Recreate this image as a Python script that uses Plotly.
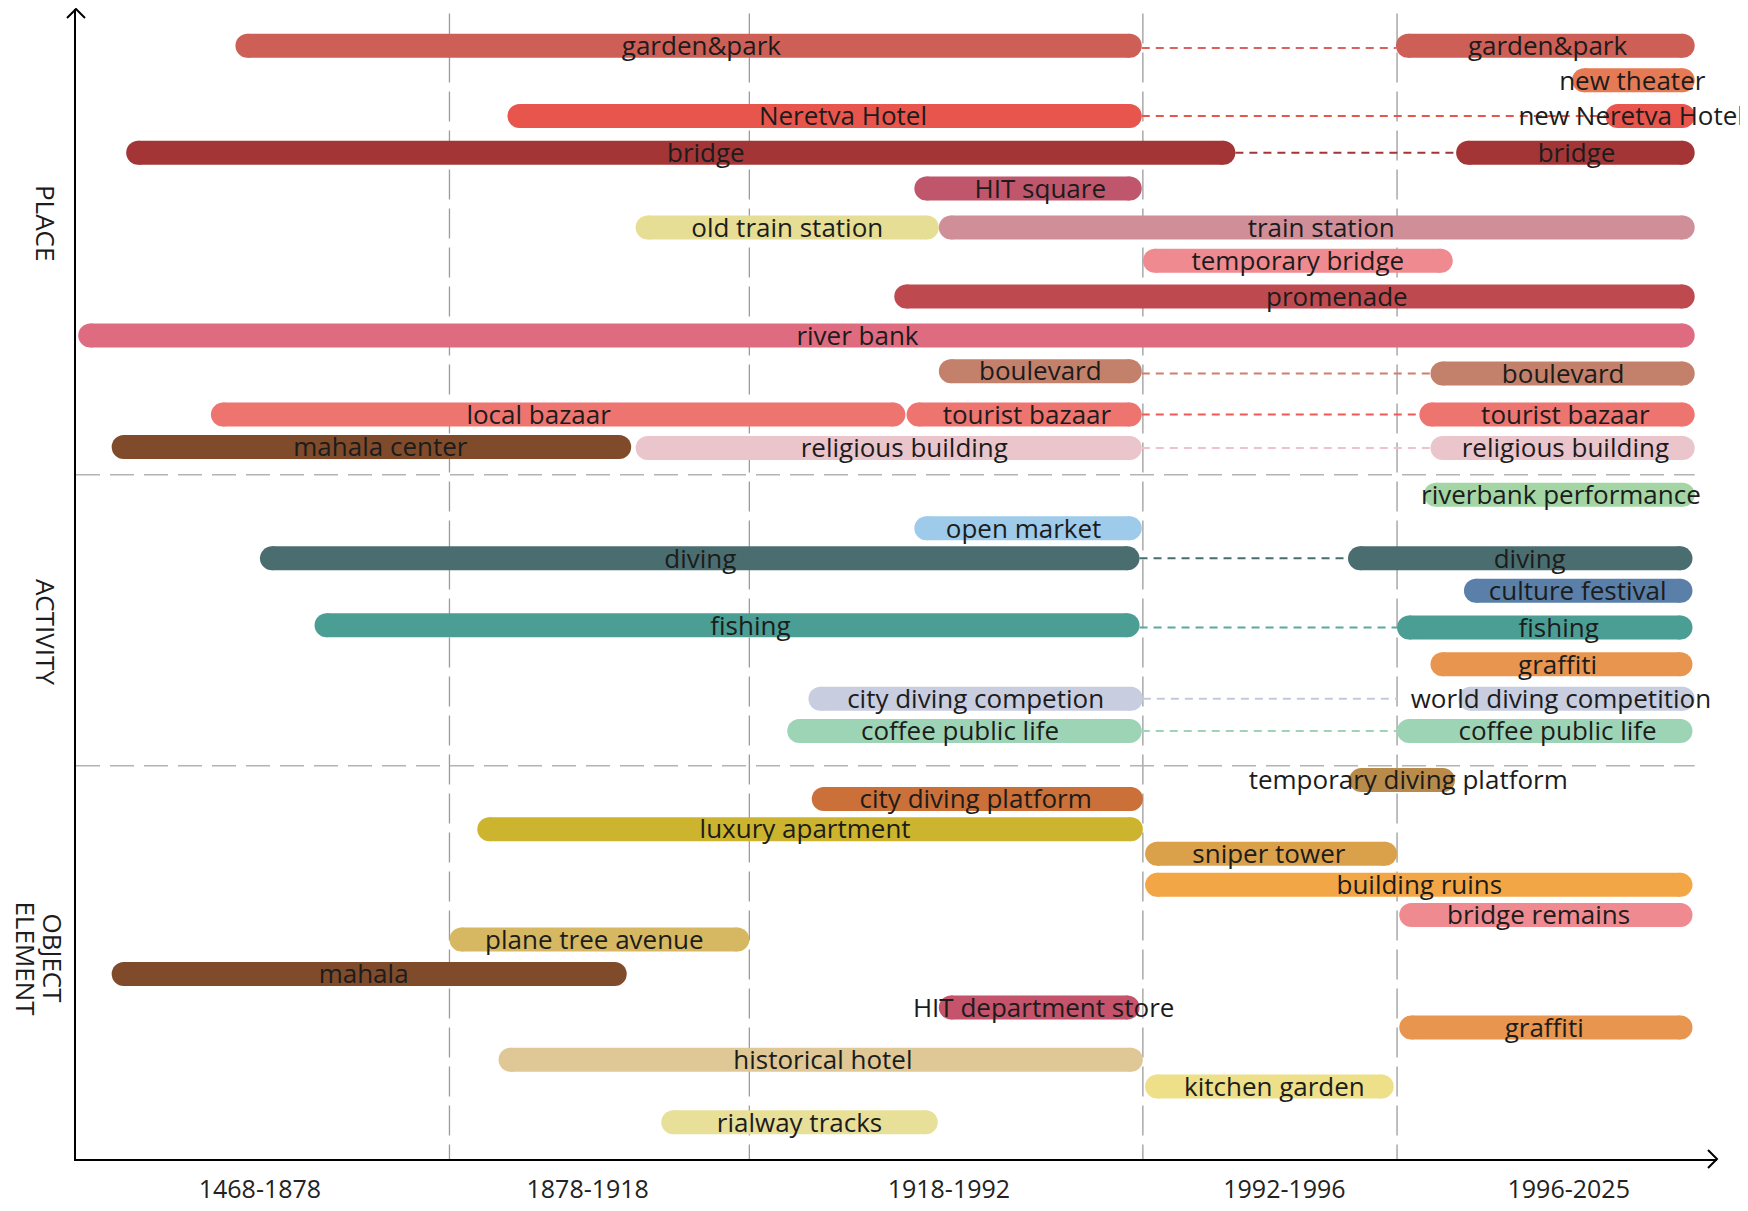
import plotly.graph_objects as go

# ---------------- data (timeline position units / lane units) ----------------
ERA_LABELS = ["1468-1878", "1878-1918", "1918-1992", "1992-1996", "1996-2025"]
ERA_LABEL_POS = [233, 527, 851, 1152, 1407]
ERA_BOUNDARIES = [403, 672, 1025, 1253]
SECTION_BREAKS = [426, 687]
SECTION_TITLES = ["PLACE", "ACTIVITY", "OBJECT", "ELEMENT"]
SECTION_POS = [200, 567, 860, 860]

BAR_LABELS = [
    "garden&park", "garden&park", "new theater", "Neretva Hotel", "new Neretva Hotel",
    "bridge", "bridge", "HIT square", "old train station", "train station",
    "temporary bridge", "promenade", "river bank", "boulevard", "boulevard",
    "local bazaar", "tourist bazaar", "tourist bazaar", "mahala center",
    "religious building", "religious building",
    "riverbank performance", "open market", "diving", "diving", "culture festival",
    "fishing", "fishing", "graffiti", "city diving competion", "world diving competition",
    "coffee public life", "coffee public life",
    "temporary diving platform", "city diving platform", "luxury apartment", "sniper tower",
    "building ruins", "bridge remains", "plane tree avenue", "mahala", "HIT department store",
    "graffiti", "historical hotel", "kitchen garden", "rialway tracks",
]
BAR_START = [
    211, 1252, 1410, 455, 1440,
    113, 1306, 820, 570, 842,
    1025, 802, 70, 842, 1283,
    189, 813, 1273, 100,
    570, 1283,
    1277, 820, 233, 1209, 1313,
    282, 1253, 1283, 725, 1308,
    706, 1253,
    1210, 728, 428, 1027,
    1027, 1255, 403, 100, 842,
    1255, 447, 1027, 593,
]
BAR_END = [
    1024, 1520, 1520, 1024, 1520,
    1108, 1520, 1024, 842, 1520,
    1303, 1520, 1520, 1024, 1520,
    812, 1024, 1520, 566,
    1024, 1520,
    1520, 1024, 1022, 1518, 1518,
    1022, 1518, 1518, 1025, 1520,
    1024, 1518,
    1305, 1025, 1025, 1253,
    1518, 1518, 672, 562, 1022,
    1518, 1025, 1250, 841,
]
BAR_LANE = [
    41, 41, 72, 104, 104,
    137, 137, 169, 204, 204,
    234, 266, 301, 333, 335,
    372, 372, 372, 401,
    402, 402,
    444, 474, 501, 501, 530,
    561, 563, 596, 627, 627,
    656, 656,
    700, 717, 744, 766,
    794, 821, 843, 874, 904,
    922, 951, 975, 1007,
]
LABEL_AT = [
    629, 1388, 1464, 756, 1463,
    633, 1414, 933, 706, 1185,
    1164, 1199, 769, 933, 1402,
    483, 921, 1404, 341,
    811, 1404,
    1400, 918, 628, 1372, 1415,
    673, 1398, 1397, 875, 1400,
    861, 1397,
    1263, 875, 722, 1138,
    1273, 1380, 533, 326, 936,
    1385, 738, 1143, 717,
]

# dashed continuation links: from, to, lane
LINK_FROM = [1024, 1024, 1108, 1024, 1024, 1024, 1022, 1022, 1025, 1024]
LINK_TO = [1252, 1440, 1306, 1283, 1273, 1283, 1209, 1253, 1253, 1253]
LINK_LANE = [43, 104, 137, 335, 372, 402, 501, 563, 627, 656]

# ---------------- styles ----------------
BAR_COLORS = [
    "#CD5F57", "#CD5F57", "#E57A55", "#E8554D", "#E8554D",
    "#A33536", "#A33536", "#C0566B", "#E6DE94", "#D08F98",
    "#EF8A90", "#BE4A50", "#DF6B80", "#C3806A", "#C3806A",
    "#EE7470", "#EE7470", "#EE7470", "#7F4B2B",
    "#EBC5CC", "#EBC5CC",
    "#A3D5A5", "#9ECBEA", "#4A6D70", "#4A6D70", "#5A7FA8",
    "#4B9E94", "#4B9E94", "#E8954F", "#C8CDE0", "#C8CDE0",
    "#9ED4B6", "#9ED4B6",
    "#B88B4A", "#CB7038", "#CDB42E", "#DBA04A",
    "#F3A645", "#EF8A91", "#D6B862", "#7F4B2B", "#C4536B",
    "#E8954F", "#DFC895", "#EDE088", "#E8DF99",
]
LINK_COLORS = ["#D9625C", "#E8554D", "#A33536", "#CF7F6C", "#EE5A57", "#EDC3CB",
               "#4A6D70", "#5AA99E", "#C3C9DD", "#9ED4B6"]
SECTION_SHIFT = [-30, -30, -23, -50]

# page body has an 8px default margin, so the figure is 8px smaller than the window
W, H = 1740, 1203
ML, MR, MT, MB = 68, 31, 1, 52
XR = [68, 1540]
YR = [1040, 8]
BAR_W = 24
FONT = "Open Sans"
TXT = "#1c1c1c"
TEXT_DROP = 2.5  # small downward nudge so glyphs sit centred on the bars

px_per_unit = (W - ML - MR) / (XR[1] - XR[0])
r = BAR_W / 2 / px_per_unit

fig = go.Figure()

# dashed continuation links
for a, b, ln, c in zip(LINK_FROM, LINK_TO, LINK_LANE, LINK_COLORS):
    fig.add_trace(go.Scatter(x=[a, b], y=[ln, ln], mode="lines",
                             line=dict(color=c, width=2, dash="8px,6px"),
                             hoverinfo="skip", showlegend=False, cliponaxis=False))

# rounded bars
for s, e, ln, c in zip(BAR_START, BAR_END, BAR_LANE, BAR_COLORS):
    fig.add_trace(go.Scatter(x=[s + r, e - r], y=[ln, ln], mode="lines+markers",
                             line=dict(color=c, width=BAR_W),
                             marker=dict(color=c, size=BAR_W, line=dict(width=0)),
                             hoverinfo="skip", showlegend=False, cliponaxis=False))

# labels
fig.add_trace(go.Scatter(x=LABEL_AT, y=[v + TEXT_DROP for v in BAR_LANE], mode="text",
                         text=BAR_LABELS, textposition="middle center",
                         textfont=dict(family=FONT, size=26, color=TXT),
                         hoverinfo="skip", showlegend=False, cliponaxis=False))

# era boundaries
for xb in ERA_BOUNDARIES:
    fig.add_shape(type="line", xref="x", yref="y", x0=xb, x1=xb, y0=12, y1=YR[0],
                  line=dict(color="#9c9c9c", width=1.3, dash="30px,9px"), layer="below")
# section separators
for yb in SECTION_BREAKS:
    fig.add_shape(type="line", xref="x", yref="y", x0=XR[0], x1=1520, y0=yb, y1=yb,
                  line=dict(color="#b3b3b3", width=1.5, dash="24px,10px"), layer="below")

# axis arrowheads
fig.add_shape(type="path", xref="paper", yref="paper", xsizemode="pixel", ysizemode="pixel",
              xanchor=1, yanchor=0, path="M -9,9 L 0,0 L -9,-9",
              line=dict(color="black", width=2))
fig.add_shape(type="path", xref="paper", yref="paper", xsizemode="pixel", ysizemode="pixel",
              xanchor=0, yanchor=1, path="M -9,-9 L 0,0 L 9,-9",
              line=dict(color="black", width=2))

# section titles
for t, yp, sh in zip(SECTION_TITLES, SECTION_POS, SECTION_SHIFT):
    fig.add_annotation(text=t, xref="paper", x=0, yref="y", y=yp, showarrow=False,
                       textangle=90, xanchor="center", yanchor="middle", xshift=sh,
                       borderpad=0, font=dict(family=FONT, size=26, color=TXT))

fig.update_layout(
    width=W, height=H,
    margin=dict(l=ML, r=MR, t=MT, b=MB),
    paper_bgcolor="white", plot_bgcolor="white",
    xaxis=dict(range=XR, showgrid=False, zeroline=False, showline=True,
               linecolor="black", linewidth=2, ticks="",
               tickvals=ERA_LABEL_POS, ticktext=ERA_LABELS, ticklabelstandoff=7,
               tickfont=dict(family=FONT, size=25, color="#222")),
    yaxis=dict(range=YR, showgrid=False, zeroline=False, showline=True,
               linecolor="black", linewidth=2, showticklabels=False, ticks=""),
)

fig.write_html("out.html")
